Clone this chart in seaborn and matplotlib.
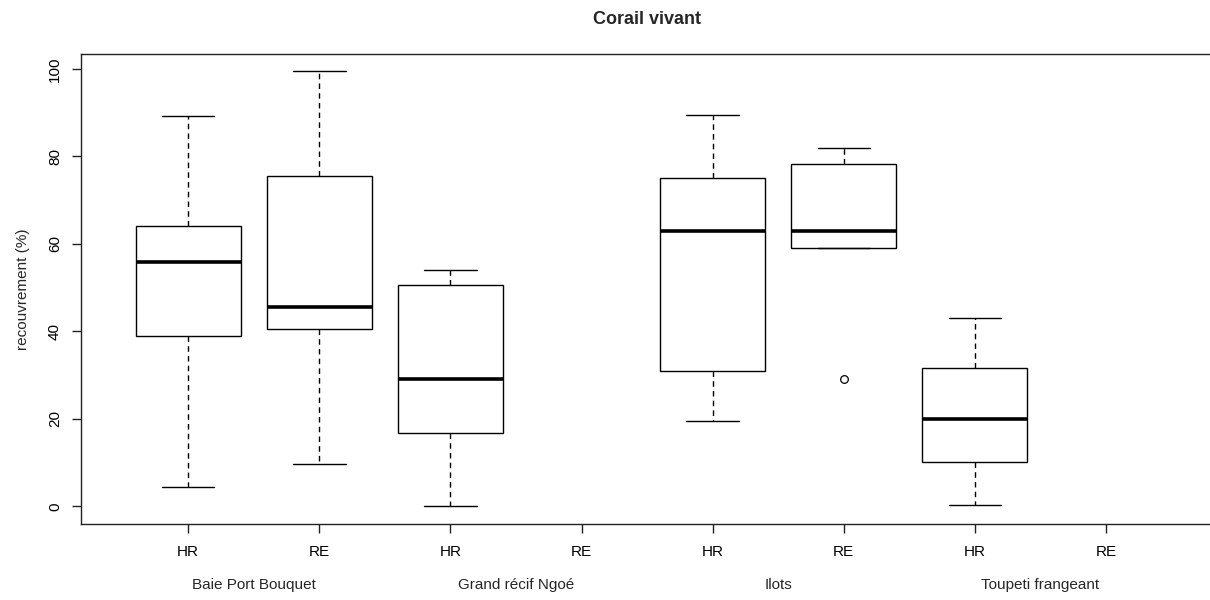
import matplotlib
matplotlib.use("Agg")
import matplotlib.pyplot as plt
import matplotlib.transforms as mtransforms
import pandas as pd
import seaborn as sns

# Sites and reef zones (HR = hors réserve, RE = réserve)
sites = ["Baie Port Bouquet", "Grand récif Ngoé", "Ilots", "Toupeti frangeant"]
zones = ["HR", "RE"]

# Live coral cover (%) per transect, by site and zone
baie_hr = [4.4, 38.9, 55.8, 64.1, 89.3]
baie_re = [9.7, 40.5, 45.5, 75.4, 99.4]
ngoe_hr = [0.0, 16.8, 29.0, 50.6, 54.1]
ngoe_re = []
ilots_hr = [19.5, 31.0, 62.9, 75.0, 89.5]
ilots_re = [29.0, 59.1, 59.1, 62.9, 78.3, 78.3, 82.0]
toupeti_hr = [0.4, 10.1, 19.9, 31.5, 43.1]
toupeti_re = []

series = {
    ("Baie Port Bouquet", "HR"): baie_hr,
    ("Baie Port Bouquet", "RE"): baie_re,
    ("Grand récif Ngoé", "HR"): ngoe_hr,
    ("Grand récif Ngoé", "RE"): ngoe_re,
    ("Ilots", "HR"): ilots_hr,
    ("Ilots", "RE"): ilots_re,
    ("Toupeti frangeant", "HR"): toupeti_hr,
    ("Toupeti frangeant", "RE"): toupeti_re,
}

rows = []
for (site, zone), values in series.items():
    for v in values:
        rows.append({"groupe": f"{site}.{zone}", "site": site, "zone": zone,
                     "recouvrement": v})
df = pd.DataFrame(rows)
order = [f"{s}.{z}" for s in sites for z in zones]

sns.set_theme(style="ticks")
plt.rcParams["font.family"] = ["Liberation Sans", "DejaVu Sans"]
plt.rcParams["axes.edgecolor"] = "#222222"
plt.rcParams["axes.linewidth"] = 1.0

fig = plt.figure(figsize=(12.1, 6.0), dpi=100)
ax = fig.add_axes([0.0667, 0.1272, 0.9362, 0.7828])

sns.boxplot(
    data=df, x="groupe", y="recouvrement", order=order, ax=ax,
    color="white", linecolor="black", linewidth=1.0, width=0.8,
    whis=1.5, fliersize=5.5, saturation=1,
    whiskerprops={"linestyle": (0, (4, 3))},
    medianprops={"linewidth": 2.6, "color": "black"},
    flierprops={"marker": "o", "markerfacecolor": "none",
                "markeredgecolor": "black", "markeredgewidth": 0.9},
)

ax.set_xlim(-0.82, 7.82)
ax.set_ylim(-3.98, 103.4)
ax.set_yticks([0, 20, 40, 60, 80, 100])
ax.set_yticklabels(["0", "20", "40", "60", "80", "100"], rotation=90, va="center")
ax.set_xticks(range(len(order)))
ax.set_xticklabels([z for s in sites for z in zones])
ax.tick_params(axis="both", colors="#222222", labelcolor="black",
               labelsize=11, length=6.5, width=1.0)
ax.tick_params(axis="x", pad=8.5)
ax.tick_params(axis="y", pad=7)
ax.set_xlabel("")
ax.set_ylabel("recouvrement (%)", fontsize=11, labelpad=13)
for side in ["top", "left", "bottom"]:
    ax.spines[side].set_visible(True)
ax.spines["right"].set_visible(False)

# Site names centred under each HR/RE pair
trans = mtransforms.blended_transform_factory(ax.transData, ax.transAxes)
for i, site in enumerate(sites):
    ax.text(2 * i + 0.5, -0.13, site, transform=trans, ha="center",
            va="center", fontsize=11)

fig.text(0.5349, 0.967, "Corail vivant", ha="center", va="center",
         fontsize=13, fontweight="bold")

fig.savefig("out.png", dpi=100, facecolor="white")
